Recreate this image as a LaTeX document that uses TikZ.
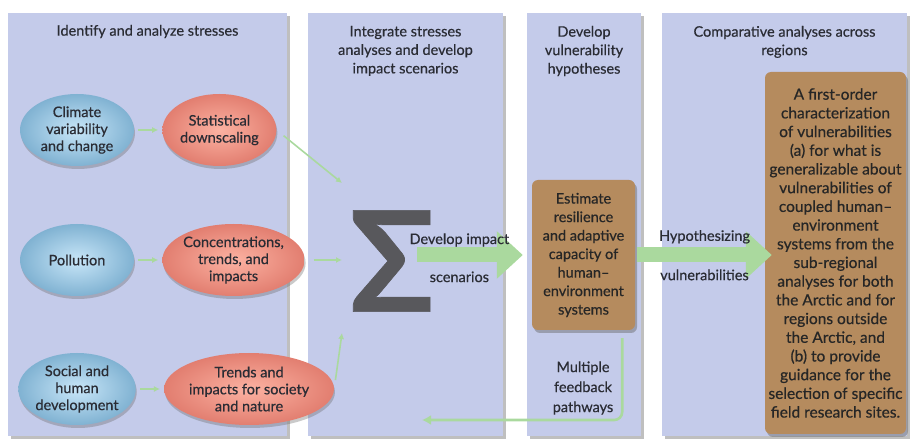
\documentclass[tikz,border=0pt]{standalone}
\usepackage{fontspec}
\setmainfont{Lato}[FakeBold=0.5]
\usepackage{tikz}
\usetikzlibrary{arrows.meta,positioning,shapes.geometric,shadows}

\definecolor{panelblue}{RGB}{196,203,234}
\definecolor{skyin}{RGB}{200,230,248}
\definecolor{skyout}{RGB}{128,178,210}
\definecolor{salmonin}{RGB}{252,178,162}
\definecolor{salmonout}{RGB}{226,126,112}
\definecolor{boxbrown}{RGB}{181,139,94}
\definecolor{arrowgreen}{RGB}{170,217,158}
\definecolor{inkgray}{RGB}{42,44,52}
\definecolor{sigmagray}{RGB}{88,88,92}

\begin{document}
\begin{tikzpicture}[x=1pt,y=-1pt,>=Latex,
   every node/.style={font=\fontsize{14.5}{17}\selectfont,text=inkgray},
   panel/.style={fill=panelblue,inner sep=0pt,
      drop shadow={shadow xshift=3pt,shadow yshift=-3pt,fill=black!50,opacity=.5}},
   title/.style={anchor=north,align=center,inner sep=0pt,font=\fontsize{14.5}{18.5}\selectfont},
   stress/.style={ellipse,minimum width=114pt,minimum height=72pt,inner sep=0pt,align=center,
      inner color=skyin,outer color=skyout,
      drop shadow={shadow xshift=1pt,shadow yshift=-3pt,fill=black!60,opacity=.35}},
   effect/.style={stress,inner color=salmonin,outer color=salmonout},
   brownbox/.style={rounded corners=6pt,fill=boxbrown,align=center,inner sep=2pt,
      font=\fontsize{14.5}{18.5}\selectfont,text=black!85,
      drop shadow={shadow xshift=2pt,shadow yshift=-3pt,fill=black!60,opacity=.45}},
   small/.style={draw=arrowgreen,line width=1.6pt,-{Latex[length=6pt,width=6pt]}},
   fat/.style={draw=arrowgreen,line width=15pt,-{Triangle[length=26pt 0 0,width=46pt 0 0]}},
   feed/.style={draw=arrowgreen,line width=2.6pt,rounded corners=8pt,-{Latex[length=9pt,width=10pt]}}]
\useasboundingbox (0,0) rectangle (911,446);

% the four columns
\node[panel,minimum width=279pt,minimum height=423pt] (p1) at (147.5,224.5) {};
\node[panel,minimum width=195pt,minimum height=423pt] (p2) at (405.5,224.5) {};
\node[panel,minimum width=114pt,minimum height=423pt] (p3) at (584,224.5) {};
\node[panel,minimum width=245pt,minimum height=423pt] (p4) at (784.5,224.5) {};

\node[title] (t1) at ([yshift=-12pt]p1.north) {Identify and analyze stresses};
\node[title] (t2) at ([yshift=-13pt]p2.north) {Integrate stresses\\analyses and develop\\impact scenarios};
\node[title] (t3) at ([yshift=-13pt]p3.north) {Develop\\vulnerability\\hypotheses};
\node[title] (t4) at ([yshift=-13pt]p4.north) {Comparative analyses across\\regions};

% stresses
\node[stress] (climate) at (77,130) {Climate\\variability\\and change};
\node[effect,right=28pt of climate] (downscale) {Statistical\\downscaling};
\node[stress] (pollution) at (77,260) {Pollution};
\node[effect,right=28pt of pollution] (conc) {Concentrations,\\trends, and\\impacts};
\node[stress] (social) at (77,389) {Social and\\human\\development};
\node[effect,right=28pt of social] (trends) {Trends and\\impacts for society\\and nature};

\draw[small,shorten <=4pt,shorten >=4pt] (climate) -- (downscale);
\draw[small,shorten <=4pt,shorten >=4pt] (pollution) -- (conc);
\draw[small,shorten <=4pt,shorten >=4pt] (social) -- (trends);

% integration
\node[inner sep=0pt,text=sigmagray,font=\fontsize{140}{140}\selectfont\bfseries] (sigma) at (392,261) {Σ};
\coordinate (in1) at (342,183);
\coordinate (in2) at (342,260);
\coordinate (in3) at (342,333);
\draw[small,shorten <=9pt] (downscale.east) -- (in1);
\draw[small,shorten <=9pt] (conc.east) -- (in2);
\draw[small,shorten <=9pt] (trends.east) -- (in3);

% hypotheses and comparison
\node[brownbox,minimum width=103pt,minimum height=150pt] (estimate) at (583.5,255)
   {Estimate\\resilience\\and adaptive\\capacity of\\human–\\environment\\systems};
\node[brownbox,minimum width=141pt,minimum height=362pt,font=\fontsize{15.5}{18.7}\selectfont] (charact) at (835.5,253)
   {A first-order\\characterization\\of vulnerabilities\\(a) for what is\\generalizable about\\vulnerabilities of\\coupled human–\\environment\\systems from the\\sub-regional\\analyses for both\\the Arctic and for\\regions outside\\the Arctic, and\\(b) to provide\\guidance for the\\selection of specific\\field research sites.};

\path (sigma.east |- estimate.west) coordinate (fatstart);
\draw[fat] ([xshift=-18pt]fatstart) -- ([xshift=-9pt]estimate.west)
   node[pos=0.4,above=1pt,inner sep=0pt] {Develop impact}
   node[pos=0.4,below=9pt,inner sep=0pt] {scenarios};
\draw[fat] ([xshift=2pt]estimate.east) -- ([xshift=7pt]estimate.east -| charact.west)
   node[midway,above=4pt,inner sep=0pt] {Hypothesizing}
   node[midway,below=7pt,inner sep=0pt] {vulnerabilities};

% feedback
\node[align=center,font=\fontsize{14.5}{20}\selectfont] (multi) at (583,388) {Multiple\\feedback\\pathways};
\coordinate (back) at (422,420);
\draw[feed] ([xshift=-13pt,yshift=-8pt]estimate.south east) |- (back);
\end{tikzpicture}
\end{document}
